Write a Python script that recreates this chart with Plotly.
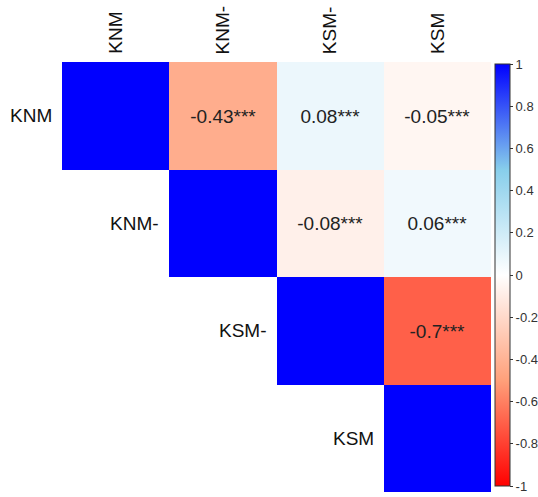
import plotly.graph_objects as go

labels = ["KNM", "KNM-", "KSM-", "KSM"]
# upper-triangle correlation values (None = empty lower triangle)
corr = [
    [1.0, -0.43, 0.08, -0.05],
    [None, 1.0, -0.08, 0.06],
    [None, None, 1.0, -0.7],
    [None, None, None, 1.0],
]
cell_text = [
    ["", "-0.43***", "0.08***", "-0.05***"],
    ["", "", "-0.08***", "0.06***"],
    ["", "", "", "-0.7***"],
    ["", "", "", ""],
]
cbar_vals = [1, 0.8, 0.6, 0.4, 0.2, 0, -0.2, -0.4, -0.6, -0.8, -1]
cbar_text = ["1", "0.8", "0.6", "0.4", "0.2", "0", "-0.2", "-0.4", "-0.6", "-0.8", "-1"]

W, H = 538, 497
FONT = "Arial, Liberation Sans, sans-serif"

colorscale = [
    [0.0, "#FF0000"],
    [0.25, "#FFA07A"],
    [0.5, "#FFFFFF"],
    [0.75, "#87CEEB"],
    [1.0, "#0000FF"],
]

cb_top, cb_bot = 64, 486

n = len(labels)
fig = go.Figure(
    go.Heatmap(
        z=corr,
        x=list(range(n)),
        y=list(range(n)),
        text=cell_text,
        texttemplate="%{text}",
        textfont=dict(family=FONT, size=19, color="#222222"),
        colorscale=colorscale,
        zmin=-1,
        zmax=1,
        hoverongaps=False,
        colorbar=dict(
            x=495 / W, xanchor="left", xref="paper",
            y=(H - (cb_top + cb_bot) / 2) / H, yanchor="middle",
            len=(cb_bot - cb_top) / H, lenmode="fraction",
            thickness=15, thicknessmode="pixels",
            xpad=0, ypad=0,
            outlinewidth=1, outlinecolor="#333333",
            tickmode="array", tickvals=cbar_vals, ticktext=cbar_text,
            ticks="outside", ticklen=3, tickcolor="#333333",
            tickfont=dict(family=FONT, size=13, color="#333333"),
        ),
    )
)

annotations = []
for i, lab in enumerate(labels):
    # column labels at top, rotated
    annotations.append(dict(
        x=i, y=(H - 56) / H, xref="x", yref="paper",
        text=lab, textangle=-90, showarrow=False,
        xanchor="center", yanchor="bottom",
        font=dict(family=FONT, size=19, color="#111111"),
    ))
    # row labels placed just left of diagonal cell
    annotations.append(dict(
        x=i - 0.5, y=i, xref="x", yref="y",
        text=lab, showarrow=False, xanchor="right", yanchor="middle",
        xshift=-8,
        font=dict(family=FONT, size=19, color="#111111"),
    ))

fig.update_layout(
    width=W, height=H,
    margin=dict(l=0, r=0, t=0, b=0, autoexpand=False),
    paper_bgcolor="white", plot_bgcolor="white",
    xaxis=dict(domain=[62 / W, 491 / W], range=[-0.5, n - 0.5],
               showticklabels=False, showgrid=False, zeroline=False,
               ticks="", showline=False),
    yaxis=dict(domain=[(H - 492) / H, (H - 62) / H], range=[n - 0.5, -0.5],
               showticklabels=False, showgrid=False, zeroline=False,
               ticks="", showline=False),
    annotations=annotations,
    showlegend=False,
)

fig.write_html("out.html", config={"displayModeBar": False},
               post_script="document.body.style.margin='0px';")
